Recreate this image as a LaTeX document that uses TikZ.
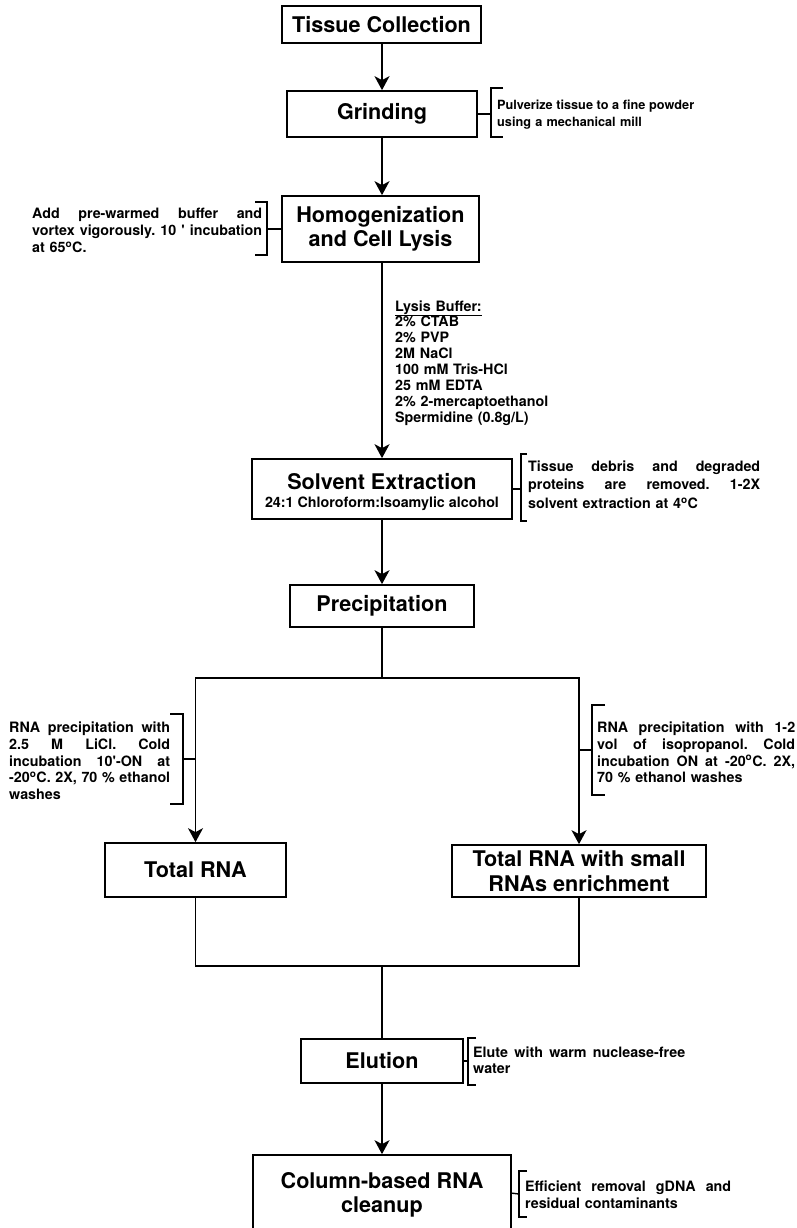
\documentclass[tikz,border=0pt]{standalone}
\usepackage{fontspec}
\setmainfont{TeX Gyre Heros}
\usetikzlibrary{arrows.meta}
\frenchspacing
% a line stretched to the full width of its paragraph
\newcommand\jline[1]{\makebox[\hsize][s]{\spaceskip=0pt\xspaceskip=0pt #1}}
\newcommand\degO{\textsuperscript{o}}

\begin{document}
\begin{tikzpicture}[x=1pt,y=-1pt,
  box/.style={draw, line width=1.7pt, inner sep=0pt, align=center,
    font=\fontsize{21.6}{24.5}\selectfont\bfseries},
  boxtext/.style={inner sep=0pt, align=center,
    font=\fontsize{21.6}{24.5}\selectfont\bfseries},
  subtext/.style={inner sep=0pt, font=\fontsize{14.3}{17}\selectfont\bfseries},
  flow/.style={line width=1.7pt},
  arr/.style={flow, -{Stealth[length=14pt,width=15pt,inset=4pt]}},
  note/.style={inner sep=0pt, anchor=base west, align=left,
    font=\fontsize{14.3}{17}\selectfont\bfseries},
  brk/.style={line width=1.4pt},
]
\fill[white] (0,0) rectangle (796,1228);
\useasboundingbox (0,0) rectangle (796,1228);
\clip (0,0) rectangle (796,1228);

% ---- main column of steps ----
\node[box, minimum width=199pt, minimum height=37pt] (tc) at (381.5,24.5) {Tissue Collection};
\node[box, minimum width=190pt, minimum height=46pt] (gr) at (382,114) {Grinding};
\node[box, minimum width=197pt, minimum height=66pt] (ho) at (380.5,229) {Homogenization\\and Cell Lysis};
\node[box, minimum width=260pt, minimum height=60pt] (se) at (382,489) {};
\node[boxtext] (setitle) at (382,482) {Solvent Extraction};
\node[subtext] (sesub) at (382,504) {24:1 Chloroform:Isoamylic alcohol};
\node[box, minimum width=184pt, minimum height=42pt] (pr) at (382,606) {Precipitation};
\node[box, minimum width=181pt, minimum height=54pt] (tr) at (195.5,870) {Total RNA};
\node[box, minimum width=254pt, minimum height=52pt] (ts) at (579,871) {Total RNA with small\\RNAs enrichment};
\node[box, minimum width=162pt, minimum height=44pt] (el) at (382,1061) {Elution};
\node[box, minimum width=258pt, minimum height=90pt] (co) at (382,1200) {};
\node[boxtext] (cotext) at (382,1195) {Column-based RNA\\cleanup};

% ---- connectors ----
\draw[arr] (tc.south -| gr.north) -- (gr.north);
\draw[arr] (gr.south) -- (gr.south |- ho.north);
\draw[arr] (ho.south -| gr.south) -- (se.north);
\draw[arr] (se.south) -- (pr.north);
\coordinate (split) at (382,678);
\draw[flow] (pr.south) -- (split);
\draw[arr] (split) -| (tr.north);
\draw[arr] (split) -| (ts.north);
\coordinate (merge) at (382,966);
\draw[flow] (tr.south) |- (merge) -| (ts.south);
\draw[flow] (merge) -- (el.north);
\draw[arr] (el.south) -- (co.north);

% ---- side notes with brackets ----
% grinding
\draw[brk] (503,88) -- (491,88) -- (491,137) -- (503,137);
\draw[brk] (gr.east) -- (491,114);
\node[note, text width=197pt, font=\fontsize{12.7}{17}\selectfont\bfseries] (grnote) at (497,109.5)
  {\jline{Pulverize tissue to a fine powder}\\using a mechanical mill};

% homogenization
\draw[brk] (255,202) -- (267,202) -- (267,255) -- (255,255);
\draw[brk] (ho.west) -- (267,229);
\node[note, text width=230pt] (honote) at (32,218.5)
  {\jline{Add pre-warmed buffer and}\\\jline{vortex vigorously. 10 \textquotesingle\ incubation}\\at 65\degO C.};

% lysis buffer
\node[note, text width=175pt, font=\fontsize{14.3}{15.95}\selectfont\bfseries] (lysis) at (395,311)
  {\underline{Lysis Buffer:}\\2\% CTAB\\2\% PVP\\2M NaCl\\100 mM Tris-HCl\\25 mM EDTA\\2\% 2-mercaptoethanol\\Spermidine (0.8g/L)};

% solvent extraction
\draw[brk] (527,454) -- (521,454) -- (521,521) -- (527,521);
\draw[brk] (se.east) -- (521,489);
\node[note, text width=232pt, font=\fontsize{14.3}{18.4}\selectfont\bfseries] (senote) at (528,471.5)
  {\jline{Tissue debris and degraded}\\\jline{proteins are removed. 1-2X}\\solvent extraction at 4\degO C};

% LiCl precipitation
\coordinate (ltick) at (tr.north |- 0,759);
\draw[brk] (170,714) -- (183,714) -- (183,804) -- (170,804);
\draw[brk] (ltick) -- (183,759);
\node[note, text width=161pt, font=\fontsize{14.3}{16.75}\selectfont\bfseries] (licl) at (9,732.5)
  {\jline{RNA precipitation with}\\\jline{2.5 M LiCl. Cold}\\\jline{incubation 10\textquotesingle-ON at}\\\jline{-20\degO C. 2X, 70 \% ethanol}\\washes};

% isopropanol precipitation
\coordinate (rtick) at (ts.north |- 0,750);
\draw[brk] (605,705) -- (592,705) -- (592,795) -- (605,795);
\draw[brk] (rtick) -- (592,750);
\node[note, text width=198pt, font=\fontsize{14.3}{16.8}\selectfont\bfseries] (iso) at (597,732.5)
  {\jline{RNA precipitation with 1-2}\\\jline{vol of isopropanol. Cold}\\\jline{incubation ON at -20\degO C. 2X,}\\70 \% ethanol washes};

% elution
\draw[brk] (476,1038) -- (468,1038) -- (468,1085) -- (476,1085);
\draw[brk] (el.east) -- (468,1061);
\node[note, text width=212pt, font=\fontsize{14.3}{16}\selectfont\bfseries] (elnote) at (473,1057.5)
  {\jline{Elute with warm nuclease-free}\\water};

% column cleanup
\draw[brk] (527,1171) -- (519,1171) -- (519,1217) -- (527,1217);
\draw[brk] (co.north east) ++(0,39) -- (519,1194);
\node[note, text width=206pt] (conote) at (525,1191.5)
  {\jline{Efficient removal gDNA and}\\residual contaminants};
\end{tikzpicture}
\end{document}
